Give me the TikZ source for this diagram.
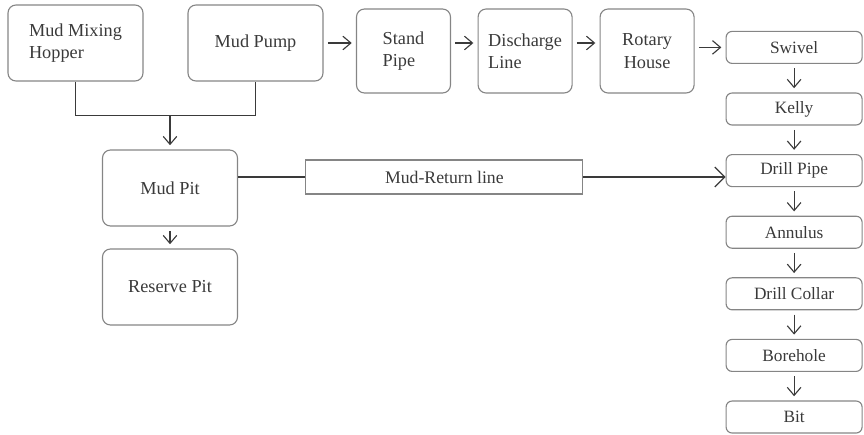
\documentclass[tikz,border=0pt]{standalone}
\usepackage{fontspec}
\setmainfont{Liberation Serif}
\usepackage{tikz}
\usetikzlibrary{arrows.meta,positioning}
\usepackage{xcolor}
\definecolor{boxgray}{HTML}{858585}
\definecolor{textgray}{HTML}{3A3A3A}

\begin{document}
\begin{tikzpicture}[node distance=1.54cm]
\tikzstyle{box} = [rectangle, draw=boxgray, line width=0.8pt, text=textgray, align=left, rounded corners=0.2cm, minimum width=3.375cm, minimum height=1.9cm, font=\fontsize{13}{16}\selectfont]
\tikzstyle{smallbox} = [box, minimum width=2.35cm, minimum height=2.1cm]
\tikzstyle{colbox} = [box, align=center, rounded corners=0.15cm, minimum width=3.4cm, minimum height=0.8cm, font=\fontsize{12.3}{14}\selectfont]
\tikzstyle{linebox} = [rectangle, draw=boxgray, line width=0.8pt, text=textgray, minimum width=6.925cm, minimum height=0.85cm, font=\fontsize{12.6}{14}\selectfont]
\tikzstyle{arrow} = [draw=textgray, line width=0.8pt, -{Straight Barb[length=2mm,width=3.4mm]}, shorten <=3pt, shorten >=3pt]
\tikzstyle{line} = [draw=textgray, line width=0.8pt]

\useasboundingbox (-1.8875,1.075) rectangle (19.7125,-9.775);

% top row
\node [box] (hopper) {Mud Mixing\\Hopper};
\node [box, node distance=4.5cm, right of=hopper] (pump) {Mud Pump};
\node [smallbox, node distance=3.7cm, right of=pump, yshift=-0.2cm] (stand) {Stand\\Pipe};
\node [smallbox, node distance=3.04cm, right of=stand] (discharge) {Discharge\\Line};
\node [smallbox, node distance=3.05cm, right of=discharge, align=center] (rotary) {Rotary\\House};

% right column
\node [colbox, node distance=3.675cm, right of=rotary, yshift=0.09cm] (swivel) {Swivel};
\node [colbox, below of=swivel] (kelly) {Kelly};
\node [colbox, below of=kelly] (drill) {Drill Pipe};
\node [colbox, below of=drill] (annulus) {Annulus};
\node [colbox, below of=annulus] (collar) {Drill Collar};
\node [colbox, below of=collar] (borehole) {Borehole};
\node [colbox, below of=borehole] (bit) {Bit};

% pits
\coordinate [node distance=1.8cm, below of=hopper, xshift=2.3625cm] (join);
\node [box, align=center, node distance=3.625cm, below of=hopper, xshift=2.3625cm] (pit) {Mud Pit};
\node [box, align=center, node distance=2.475cm, below of=pit] (reserve) {Reserve Pit};
\node [linebox, node distance=6.86cm, right of=pit, yshift=0.275cm] (ret) {Mud-Return line};

\draw [line] (hopper.south) -- ++(0,-0.85) -| (pump.south);
\draw [arrow, shorten <=0pt] (join) -- (pit.north);
\draw [arrow] (pit) -- (reserve);

\draw [arrow] (pump.east) -- (pump.east -| stand.west);
\draw [arrow] (stand.east |- pump.east) -- (discharge.west |- pump.east);
\draw [arrow] (discharge.east |- pump.east) -- (rotary.west |- pump.east);
\draw [arrow] (rotary.east |- swivel.west) -- (swivel.west);

\draw [arrow] (swivel) -- (kelly);
\draw [arrow] (kelly) -- (drill);
\draw [arrow] (drill) -- (annulus);
\draw [arrow] (annulus) -- (collar);
\draw [arrow] (collar) -- (borehole);
\draw [arrow] (borehole) -- (bit);

\draw [line] (pit.east |- ret.west) -- (ret.west);
\draw [arrow, -{Straight Barb[length=2.5mm,width=5mm]}, shorten <=0pt, shorten >=0pt] (ret.east) -- (ret.east -| drill.west);
\end{tikzpicture}
\end{document}
